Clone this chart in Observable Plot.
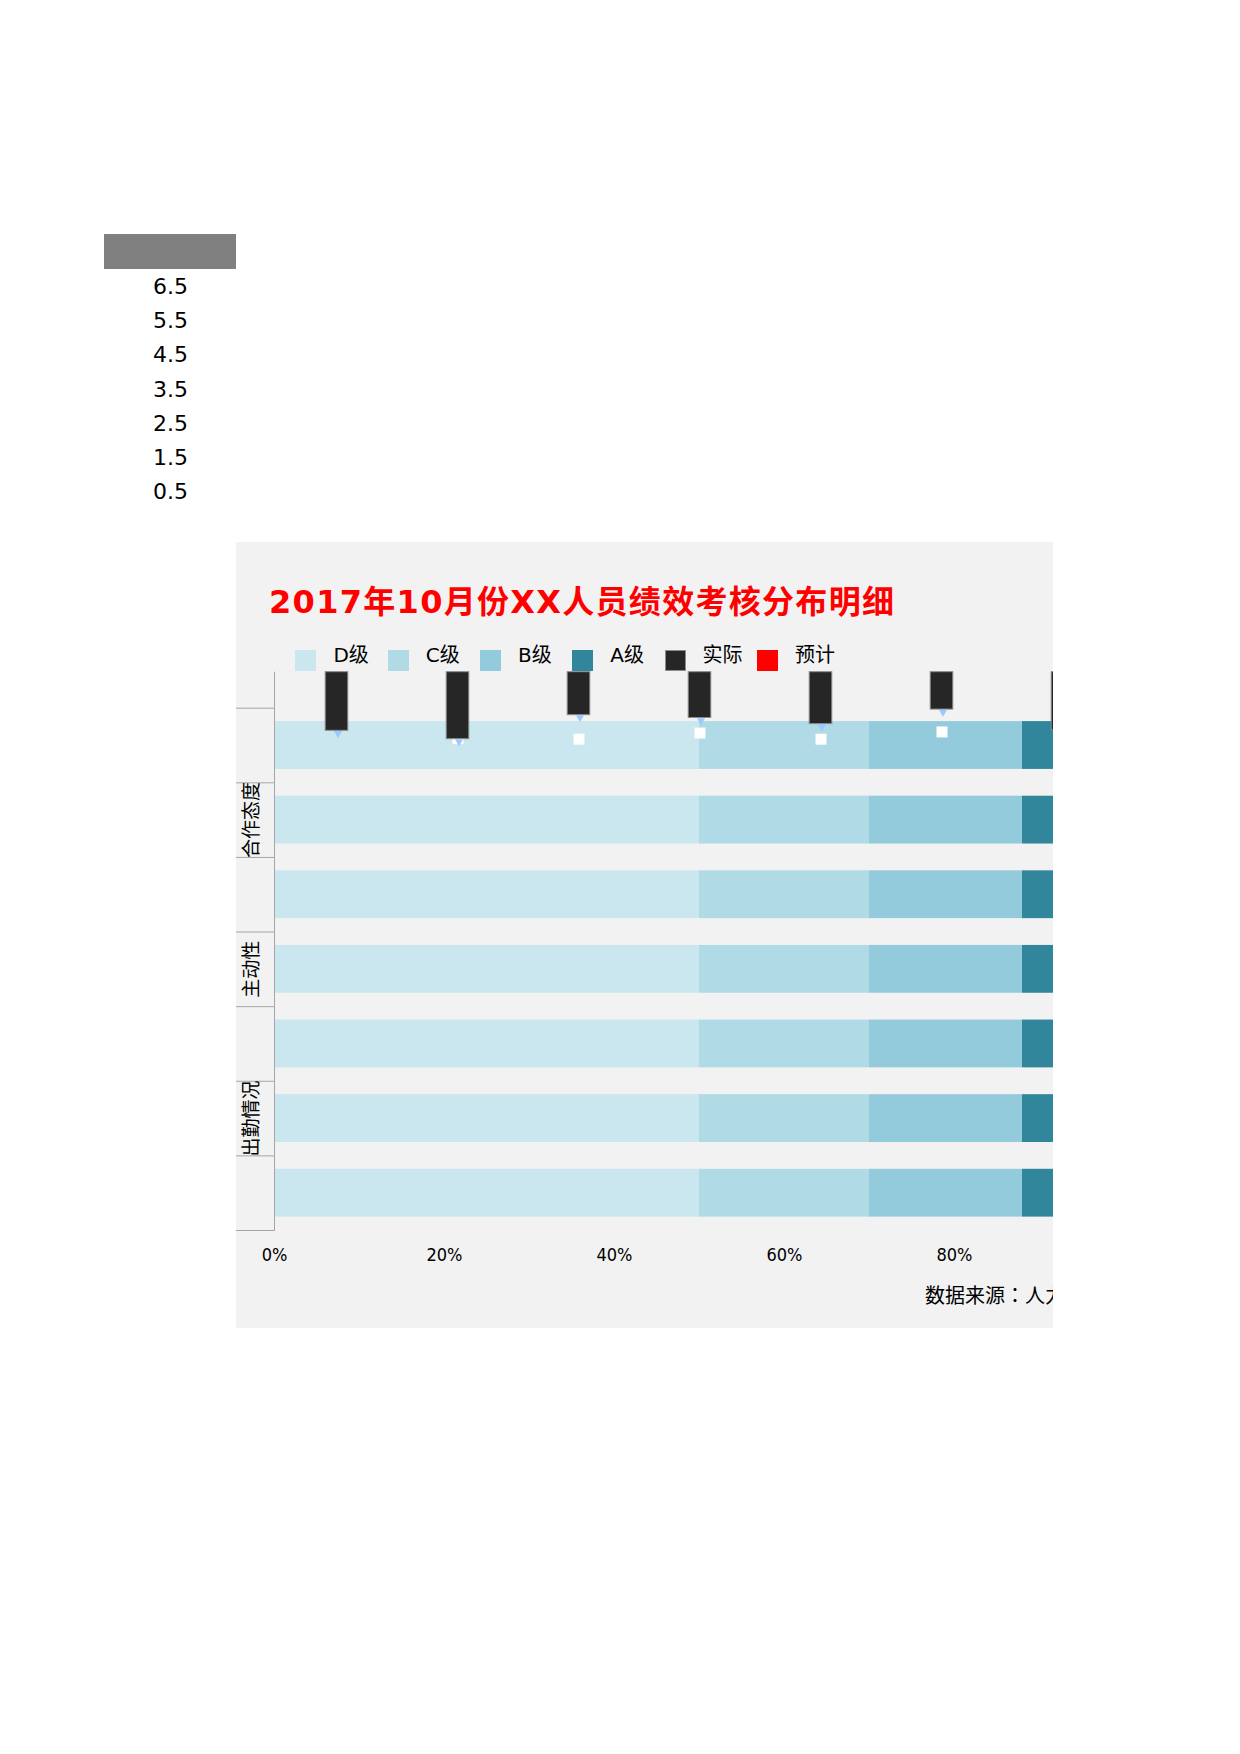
<!DOCTYPE html>
<html>
<head>
<meta charset="utf-8">
<script src="https://cdn.jsdelivr.net/npm/d3@7"></script>
<script src="https://cdn.jsdelivr.net/npm/@observablehq/plot@0.6"></script>
<style>
  html, body { margin: 0; padding: 0; background: #fff; }
  #page { position: relative; width: 1240px; height: 1754px; background: #fff; overflow: hidden; }
  #grayRect { position: absolute; left: 104px; top: 234px; width: 132px; height: 35px; background: #808080; }
  #side { position: absolute; left: 104px; top: 269px; }
  #panel { position: absolute; left: 236px; top: 542px; width: 817px; height: 786px; background: #F2F2F2; overflow: hidden; }
  #title { position: absolute; left: 33px; top: 44px; white-space: nowrap; color: #FF0000; font-weight: bold; letter-spacing: 1.3px;
           font-family: "DejaVu Sans", "Noto Sans CJK SC", sans-serif; font-size: 32px; line-height: 32px; }
  .chart { position: absolute; left: 0; top: 0; }
  .lg-sw { position: absolute; top: 108px; width: 21px; height: 21px; }
  .lg-tx { position: absolute; top: 103px; font-size: 20px; line-height: 20px; white-space: nowrap; color: #000;
           font-family: "DejaVu Sans", "Noto Sans CJK SC", sans-serif; }
  #caption { position: absolute; left: 689px; top: 743px; white-space: nowrap; font-size: 20px; line-height: 20px; color: #000;
             font-family: "Noto Sans CJK JP", "Noto Sans CJK SC", sans-serif; }
</style>
</head>
<body>
<div id="page">
  <div id="grayRect"></div>
  <div id="side"></div>
  <div id="panel">
    <div id="title"></div>
    <div id="legend"></div>
    <div id="chart1" class="chart"></div>
    <div id="chart2" class="chart"></div>
    <div id="caption"></div>
  </div>
</div>
<script>
// ---------- data ----------
const titleText = "2017年10月份XX人员绩效考核分布明细";
const captionText = "数据来源：人力资源部";

const grades = ["D级", "C级", "B级", "A级"];
const gradeColors = ["#CAE6EE", "#B0DAE6", "#93CBDC", "#31869B"];
const rowIds = [1, 2, 3, 4, 5, 6, 7];
const shareD = [50, 50, 50, 50, 50, 50, 50];
const shareC = [20, 20, 20, 20, 20, 20, 20];
const shareB = [18, 18, 18, 18, 18, 18, 18];
const shareA = [12, 12, 12, 12, 12, 12, 12];

const groupLabels = ["合作态度", "主动性", "出勤情况"];
const groupRows = [2, 4, 6];

const xTicks = [0, 20, 40, 60, 80];

const seriesNames = ["实际", "预计"];
const seriesColors = ["#262626", "#FF0000"];
const columnIds = [1, 2, 3, 4, 5, 6, 7];
const actualValues = [1.05, 1.20, 0.77, 0.82, 0.93, 0.67, 1.04];
const forecastValues = [0.94, 1.19, 1.20, 1.09, 1.20, 1.07, 1.12];

const sideTicks = [6.5, 5.5, 4.5, 3.5, 2.5, 1.5, 0.5];

// ---------- derived tables ----------
const shares = [shareD, shareC, shareB, shareA];
const rows = [];
rowIds.forEach((id, i) => {
  let cum = 0;
  grades.forEach((g, k) => {
    const v = shares[k][i];
    rows.push({row: id, grade: g, x1: cum, x2: cum + v, y1: 7 - id, y2: 8 - id});
    cum += v;
  });
});
const groups = groupLabels.map((t, i) => ({text: t, y: 7 - groupRows[i] + 0.5}));
const cols = columnIds.map((c, i) => ({col: c, actual: actualValues[i], forecast: forecastValues[i]}));

// ---------- title, legend, caption ----------
document.getElementById("title").textContent = titleText;
document.getElementById("caption").textContent = captionText;
const legend = document.getElementById("legend");
const legendItems = grades.map((g, i) => ({name: g, color: gradeColors[i]}))
  .concat(seriesNames.map((s, i) => ({name: s, color: seriesColors[i]})));
legendItems.forEach((it, i) => {
  const x = 59.4 + 92.3 * i;
  const sw = document.createElement("div");
  sw.className = "lg-sw";
  sw.style.left = x + "px";
  sw.style.background = it.color;
  if (it.name === "实际") sw.style.boxShadow = "inset 0 0 0 1px #8c8c8c";
  legend.appendChild(sw);
  const tx = document.createElement("div");
  tx.className = "lg-tx";
  tx.style.left = (x + 38) + "px";
  tx.textContent = it.name;
  legend.appendChild(tx);
});

// ---------- side labels ----------
const side = Plot.plot({
  width: 132, height: 240,
  margin: 0,
  x: {axis: null},
  y: {domain: [0, 7], range: [240, 0], axis: null},
  style: {background: "transparent", maxWidth: "none", overflow: "visible"},
  marks: [
    Plot.text(sideTicks, {y: d => d, text: d => d.toFixed(1), fontSize: 22, fill: "#000",
      fontFamily: "DejaVu Sans"})
  ]
});
document.getElementById("side").appendChild(side);

// ---------- chart 1: stacked bars ----------
const W = 960, H = 786;
const chart1 = Plot.plot({
  width: W, height: H,
  marginLeft: 38, marginRight: 72, marginTop: 129.7, marginBottom: 98,
  x: {domain: [0, 100]},
  y: {domain: [0, 7], range: [688, 165.7]},
  color: {domain: grades, range: gradeColors},
  style: {background: "transparent", maxWidth: "none", overflow: "visible"},
  marks: [
    Plot.rect(rows, {x1: "x1", x2: "x2", y1: "y1", y2: "y2", fill: "grade", insetTop: 13.4, insetBottom: 13.4}),
    Plot.axisY({ticks: d3.range(0, 8), tickSize: 38, tickFormat: () => "", stroke: "#a6a6a6"}),
    Plot.frame({anchor: "left", stroke: "#a6a6a6"}),
    Plot.axisX({ticks: xTicks, tickSize: 0, tickPadding: 18, tickFormat: d => d + "%",
      fontSize: 18, fontFamily: "DejaVu Sans Condensed, DejaVu Sans", fill: "#000"}),
    Plot.text(groups, {y: "y", text: "text", frameAnchor: "left", dx: -22.5, rotate: -90,
      textAnchor: "middle", fontSize: 19, fill: "#000", fontFamily: "Noto Sans CJK SC"})
  ]
});
document.getElementById("chart1").appendChild(chart1);

// ---------- chart 2: hanging columns ----------
const chart2 = Plot.plot({
  width: W, height: H,
  marginLeft: 38, marginRight: 72, marginTop: 0, marginBottom: 0,
  x: {type: "band", domain: columnIds, range: [38, 888], padding: 0, axis: null},
  y: {domain: [0, 10], range: [129.7, 688], axis: null},
  style: {background: "transparent", maxWidth: "none", overflow: "visible"},
  marks: [
    Plot.dot(cols, {x: "col", y: "forecast", symbol: "square", r: 6.2, fill: "#FFFFFF"}),
    Plot.barY(cols, {x: "col", y1: 0, y2: "actual", fill: "#262626", stroke: "#8c8c8c", strokeWidth: 1,
      insetLeft: 49.2, insetRight: 49.2}),
    Plot.dot(cols, {x: "col", y: "actual", symbol: "triangle", rotate: 180, r: 3, fill: "#99C9FF",
      dx: 1, dy: 2.5})
  ]
});
document.getElementById("chart2").appendChild(chart2);
</script>
</body>
</html>
